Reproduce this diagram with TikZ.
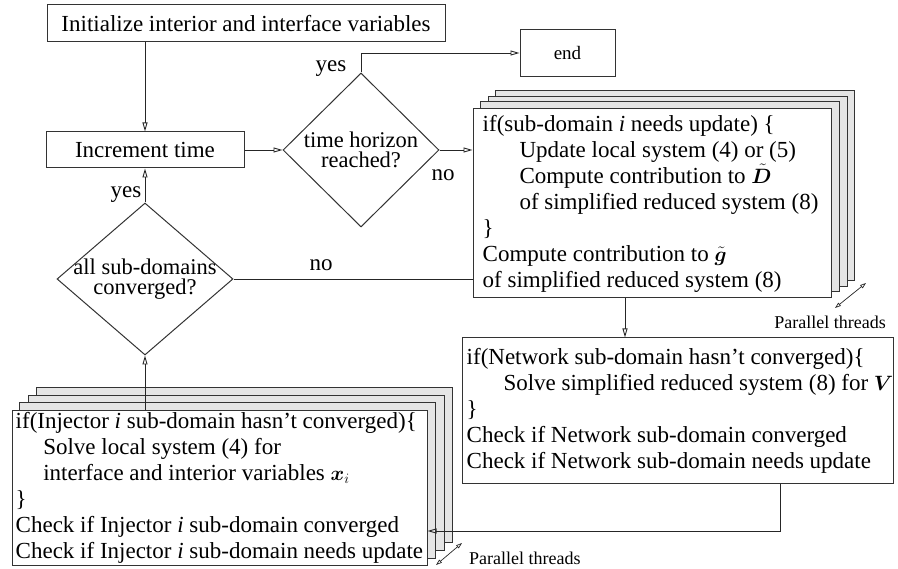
\documentclass[tikz,border=0pt]{standalone}
\usepackage{fontspec}
\setmainfont{Liberation Serif}
\usepackage{amsmath,bm}
\usetikzlibrary{shapes.geometric,arrows.meta,calc,backgrounds}
\newcommand\mymth[1]{{\fontsize{20.5}{26}\selectfont$#1$}}
\begin{document}
\begin{tikzpicture}[x=1pt,y=-1pt,
  font=\fontsize{23}{26}\selectfont,
  box/.style={draw=black!80, line width=1pt, fill=white, inner sep=0pt},
  txt/.style={anchor=west, align=left, inner sep=0pt},
  dia/.style={diamond, draw=black!80, line width=1pt, inner sep=0pt},
  dtxt/.style={align=center, font=\fontsize{22.5}{20.5}\selectfont},
  layer/.style={draw=black!80, line width=1pt, fill=black!10},
  arr/.style={draw=black!85, line width=0.9pt, -{Triangle[open,length=9pt,width=5pt]}},
  conn/.style={draw=black!85, line width=0.9pt},
  par/.style={draw=black!85, line width=0.7pt, {Triangle[open,length=6pt,width=4pt]}-{Triangle[open,length=6pt,width=4pt]}},
  lbl/.style={inner sep=0pt},
  small/.style={font=\fontsize{18}{20}\selectfont, inner sep=0pt}]
\useasboundingbox (0,0) rectangle (898,569);

% boxes
\node[box, minimum width=398, minimum height=37] (init) at (246,23.5) {Initialize interior and interface variables};
\node[box, minimum width=198, minimum height=36] (incr) at (145,150) {Increment time};
\node[box, minimum width=95, minimum height=47, font=\fontsize{19}{22}\selectfont] (end) at (567.5,53) {end};

% diamonds
\node[dia, minimum width=156, minimum height=154,
  label={[dtxt]center:time horizon\\reached?}] (d1) at (361,150) {};
\node[dia, minimum width=176, minimum height=152,
  label={[dtxt]center:all sub-domains\\converged?}] (d2) at (145,279) {};

% stacked top-right box
\node[box, minimum width=358, minimum height=189,
  label={[txt, xshift=10pt]west:if(sub-domain \textit{i} needs update) \{\\
\hspace*{1.6em}Update local system (4) or (5)\\
\hspace*{1.6em}Compute contribution to \mymth{\tilde{\bm D}}\\
\hspace*{1.6em}of simplified reduced system (8)\\
\}\\
Compute contribution to \mymth{\tilde{\bm g}}\\
of simplified reduced system (8)}] (tr) at (652,203.5) {};

% network box
\node[box, minimum width=431, minimum height=146,
  label={[txt, xshift=5pt]west:if(Network sub-domain hasn’t converged)\{\\
\hspace*{1.6em}Solve simplified reduced system (8) for \mymth{\bm V}\\
\}\\
Check if Network sub-domain converged\\
Check if Network sub-domain needs update}] (net) at (677.5,411) {};

% injector stacked box
\node[box, minimum width=415, minimum height=154,
  label={[txt, xshift=4pt]west:if(Injector \textit{i} sub-domain hasn’t converged)\{\\
\hspace*{1.2em}Solve local system (4) for\\
\hspace*{1.2em}interface and interior variables \mymth{\bm{x}_i}\\
\}\\
Check if Injector \textit{i} sub-domain converged\\
Check if Injector \textit{i} sub-domain needs update}] (inj) at (219.5,488) {};

\begin{scope}[on background layer]
\foreach \dx/\dy in {23/18, 15.5/12, 8/6.5} {
  \draw[layer] ($(tr.south west)+(\dx,-\dy)$) rectangle ($(tr.north east)+(\dx,-\dy)$);
}
\foreach \dx/\dy in {25/23, 16.5/15, 8/7.5} {
  \draw[layer] ($(inj.south west)+(\dx,-\dy)$) rectangle ($(inj.north east)+(\dx,-\dy)$);
}
\end{scope}

% connectors
\draw[arr] (init.south -| incr.north) -- (incr.north);
\draw[arr] (incr.east) -- (d1.west);
\draw[arr] (d1.north) |- (end.west);
\draw[arr] (d1.east) -- (d1.east -| tr.west);
\draw[arr] (d2.north) -- (d2.north |- incr.south);
\draw[conn] (d2.east -| tr.west) -- (d2.east);
\draw[arr] (inj.north -| d2.south) -- (d2.south);
\draw[arr] ([xshift=-27pt]tr.south) -- ([xshift=-27pt]tr.south |- net.north);
\draw[arr] ([xshift=102.5pt]net.south) |- ([yshift=-43pt]inj.east);

% labels
\node[lbl] (yes1) at (331,69) {yes};
\node[lbl] (no1) at (443,175) {no};
\node[lbl] (yes2) at (126,195) {yes};
\node[lbl] (no2) at (321,265) {no};

% parallel threads
\coordinate (pa1) at (835,308);
\coordinate (pb1) at (866,283);
\draw[par] (pa1) -- (pb1);
\node[small] (pt1) at (830,322) {Parallel threads};
\coordinate (pa2) at (436,565);
\coordinate (pb2) at (462,543);
\draw[par] (pa2) -- (pb2);
\node[small, anchor=west] (pt2) at (469,558) {Parallel threads};
\end{tikzpicture}
\end{document}
